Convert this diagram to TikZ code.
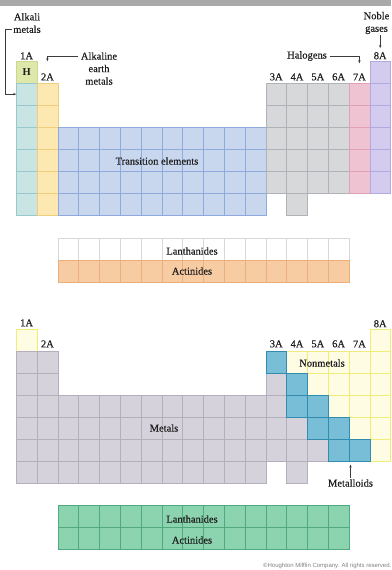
\documentclass[tikz,border=0pt]{standalone}
\usepackage{fontspec}
\setmainfont{Liberation Serif}
\newfontfamily\labelfont{Liberation Serif}[FakeBold=0.35]
\newfontfamily\creditfont{Liberation Sans}
\usetikzlibrary{arrows.meta, positioning}

\definecolor{barfill}{HTML}{A9A9A9}
\definecolor{textgray}{HTML}{1E1E1E}
\definecolor{linegray}{HTML}{3C3C3C}
\definecolor{hfill}{HTML}{DEE8AA}      \definecolor{hline}{HTML}{CCD78E}
\definecolor{alkfill}{HTML}{C8E4E3}    \definecolor{alkline}{HTML}{98C8CC}
\definecolor{earthfill}{HTML}{FDE8B2}  \definecolor{earthline}{HTML}{EFCD7A}
\definecolor{transfill}{HTML}{C8D6EE}  \definecolor{transline}{HTML}{8EAADC}
\definecolor{pfill}{HTML}{D6D8DA}      \definecolor{pline}{HTML}{AFB2B6}
\definecolor{halfill}{HTML}{F0C3D2}    \definecolor{halline}{HTML}{E0A0B5}
\definecolor{noblefill}{HTML}{D4CCEE}  \definecolor{nobleline}{HTML}{B4A8E1}
\definecolor{lanline}{HTML}{D8D8D8}
\definecolor{actfill}{HTML}{F8CCA2}    \definecolor{actline}{HTML}{EBAF7D}
\definecolor{metfill}{HTML}{D6D2DC}    \definecolor{metline}{HTML}{B4AFBC}
\definecolor{loidfill}{HTML}{78BED7}   \definecolor{loidline}{HTML}{328CAF}
\definecolor{nonfill}{HTML}{FFFCE4}    \definecolor{nonline}{HTML}{F0EC78}
\definecolor{ffill}{HTML}{8CD4AF}      \definecolor{fline}{HTML}{50AA7D}

% a block of cells: style, prefix, first col, last col, first row, last row
\newcommand{\cellblock}[6]{%
  \foreach \cc in {#3,...,#4}{%
    \foreach \rr in {#5,...,#6}{%
      \node[#1] (#2-\cc-\rr) at ({\gridx+(\cc-1)*20.8},{\gridy+(\rr-1)*22.1}) {};
    }%
  }%
}

\begin{document}
\begin{tikzpicture}[
    x=1pt, y=-1pt,
    cell/.style={rectangle, anchor=north west, minimum width=20.8pt, minimum height=22.1pt, inner sep=0pt, outer sep=0pt, line width=0.5pt},
    hcell/.style={cell, fill=hfill, draw=hline, font=\fontsize{10.5}{12}\selectfont\bfseries, text=textgray},
    alkcell/.style={cell, fill=alkfill, draw=alkline},
    earthcell/.style={cell, fill=earthfill, draw=earthline},
    transcell/.style={cell, fill=transfill, draw=transline},
    pcell/.style={cell, fill=pfill, draw=pline},
    halcell/.style={cell, fill=halfill, draw=halline},
    noblecell/.style={cell, fill=noblefill, draw=nobleline},
    lancell/.style={cell, fill=white, draw=lanline},
    actcell/.style={cell, fill=actfill, draw=actline},
    metcell/.style={cell, fill=metfill, draw=metline},
    loidcell/.style={cell, fill=loidfill, draw=loidline},
    noncell/.style={cell, fill=nonfill, draw=nonline},
    fcell/.style={cell, fill=ffill, draw=fline},
    txt/.style={font=\labelfont\fontsize{10.5}{12.5}\selectfont, text=textgray, inner sep=1pt, align=center},
    arrow/.style={line width=0.5pt, draw=linegray, -{Stealth[length=3pt, width=2.4pt]}},
]
    \useasboundingbox (0,0) rectangle (391,570);
    \clip (0,0) rectangle (391,570);
    \fill[barfill] (0,0) rectangle (391,5.5);

    % upper table: groups
    \def\gridx{16.2}
    \def\gridy{61}
    \node[hcell] (t-1-1) at (\gridx,\gridy) {H};
    \cellblock{alkcell}{t}{1}{1}{2}{7}
    \cellblock{earthcell}{t}{2}{2}{2}{7}
    \cellblock{transcell}{t}{3}{12}{4}{7}
    \cellblock{pcell}{t}{13}{16}{2}{6}
    \cellblock{pcell}{t}{14}{14}{7}{7}
    \cellblock{halcell}{t}{17}{17}{2}{6}
    \cellblock{noblecell}{t}{18}{18}{1}{6}

    \node[txt, above=0.5pt of t-1-1] (ta1) {1A};
    \node[txt, above=1.5pt of t-2-2] (ta2) {2A};
    \foreach \cc/\gg in {13/3,14/4,15/5,16/6,17/7}
        \node[txt, above=1.5pt of t-\cc-2] (ta\gg) {\gg A};
    \node[txt, above=0.5pt of t-18-1] (ta8) {8A};

    \node[txt] (alkali) at (27,23) {Alkali\\metals};
    \node[txt] (earth) at (99,68.5) {Alkaline\\earth\\metals};
    \node[txt] (halogens) at (307,56) {Halogens};
    \node[txt] (noble) at (376.5,23) {Noble\\gases};
    \node[txt] (trans) at (157,161) {Transition elements};

    \draw[arrow] ([yshift=-6pt]alkali.west) -- ++(-7,0) |- (t-1-2.west);
    \draw[arrow, shorten >=11pt] ([xshift=-1.5pt, yshift=-5.5pt]earth.north west) -| (ta2.north);
    \draw[arrow, shorten >=9pt] ([xshift=1.5pt]halogens.east) -| (ta7.north);
    \draw[arrow, shorten >=3pt] (noble.south -| ta8.north) -- (ta8.north);

    % upper f-block
    \def\gridy{238}
    \cellblock{lancell}{tf}{3}{16}{1}{1}
    \cellblock{actcell}{tf}{3}{16}{2}{2}
    \node[txt] (tlan) at (192,251) {Lanthanides};
    \node[txt] (tact) at (192,271) {Actinides};

    % lower table: metals, metalloids, nonmetals
    \def\gridy{329}
    \node[noncell] (b-1-1) at (\gridx,\gridy) {};
    \cellblock{noncell}{b}{14}{14}{2}{2}
    \cellblock{noncell}{b}{15}{15}{2}{3}
    \cellblock{noncell}{b}{16}{16}{2}{4}
    \cellblock{noncell}{b}{17}{17}{2}{5}
    \cellblock{noncell}{b}{18}{18}{1}{6}
    \cellblock{metcell}{b}{1}{2}{2}{7}
    \cellblock{metcell}{b}{3}{12}{4}{7}
    \cellblock{metcell}{b}{13}{13}{3}{6}
    \cellblock{metcell}{b}{14}{14}{5}{7}
    \cellblock{metcell}{b}{15}{15}{6}{6}
    \cellblock{loidcell}{b}{13}{13}{2}{2}
    \cellblock{loidcell}{b}{14}{14}{3}{4}
    \cellblock{loidcell}{b}{15}{15}{4}{5}
    \cellblock{loidcell}{b}{16}{16}{5}{6}
    \cellblock{loidcell}{b}{17}{17}{6}{6}

    \node[txt, above=1.5pt of b-1-1] (ba1) {1A};
    \node[txt, above=2.5pt of b-2-2] (ba2) {2A};
    \foreach \cc/\gg in {13/3,14/4,15/5,16/6,17/7}
        \node[txt, above=2.5pt of b-\cc-2] (ba\gg) {\gg A};
    \node[txt, above=0.5pt of b-18-1] (ba8) {8A};

    \node[txt] (metals) at (164,428) {Metals};
    \node[txt] (nonmetals) at (322,363) {Nonmetals};
    \node[txt] (metalloids) at (350.5,483) {Metalloids};
    \draw[arrow, shorten >=3pt] (metalloids.north) -- (metalloids.north |- b-16-6.south east);

    % lower f-block
    \def\gridy{505}
    \cellblock{fcell}{bf}{3}{16}{1}{2}
    \node[txt] (blan) at (192,519) {Lanthanides};
    \node[txt] (bact) at (192,540) {Actinides};

    \node[anchor=west, inner sep=0pt, font=\creditfont\fontsize{6}{7}\selectfont, text=gray] (credit) at (263,566) {\textcopyright Houghton Mifflin Company. All rights reserved.};
\end{tikzpicture}
\end{document}
